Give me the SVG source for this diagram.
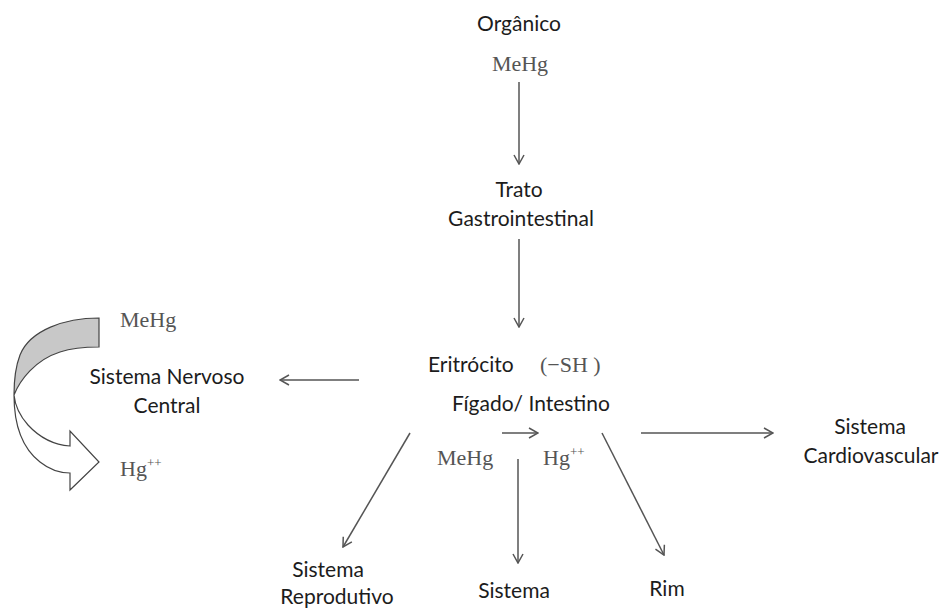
<svg xmlns="http://www.w3.org/2000/svg" width="943" height="608" viewBox="0 0 943 608">
  <style>
    .lbl { font-family: Lato, "Liberation Sans", sans-serif; font-size: 21px; fill: #1c1c1c; }
    .chem { font-family: "Liberation Serif", serif; font-size: 22px; fill: #555; }
    .sup { font-size: 13px; }
    .conn line { stroke: #555; stroke-width: 1.5; fill: none; marker-end: url(#arr); }
  </style>
  <defs>
    <marker id="arr" viewBox="0 0 12 12" refX="11" refY="6" markerWidth="12" markerHeight="12" markerUnits="userSpaceOnUse" orient="auto">
      <path d="M2,1 L11,6 L2,11" fill="none" stroke="#555" stroke-width="1.5"/>
    </marker>
  </defs>
  <rect width="943" height="608" fill="#fff"/>

  <g id="organico">
    <text class="lbl" x="519" y="31" text-anchor="middle">Orgânico</text>
    <text class="chem" x="520" y="71" text-anchor="middle">MeHg</text>
  </g>

  <g id="trato">
    <text class="lbl" x="519" y="197" text-anchor="middle">Trato</text>
    <text class="lbl" x="521" y="226" text-anchor="middle">Gastrointestinal</text>
  </g>

  <g id="eritrocito">
    <text class="lbl" x="428" y="372">Eritrócito</text>
    <text class="chem" x="540" y="372">(−SH )</text>
    <text class="lbl" x="452" y="411">Fígado/ Intestino</text>
    <text class="chem" x="437" y="465">MeHg</text>
    <text class="chem" x="543" y="465">Hg<tspan class="sup" dy="-9">++</tspan></text>
  </g>

  <g id="snc">
    <text class="lbl" x="167" y="384" text-anchor="middle">Sistema Nervoso</text>
    <text class="lbl" x="167" y="413" text-anchor="middle">Central</text>
    <text class="chem" x="120" y="327">MeHg</text>
    <text class="chem" x="120" y="476">Hg<tspan class="sup" dy="-9">++</tspan></text>
  </g>

  <g id="ciclo">
    <!-- shaded upper band -->
    <path d="M99,318 C65,318 30,330 20,355 C15,368 14,382 14,395 C20,380 35,360 60,352 C72,348 85,347 99,347 Z" fill="#c8c8c8" stroke="#444" stroke-width="1.2"/>
    <!-- white lower arrow -->
    <path d="M14,395 C14,425 22,448 40,462 C50,470 60,473 70,473 L70,490 L99,462 L70,431 L70,446 C55,445 40,438 28,425 C20,416 15,405 14,395 Z" fill="#fff" stroke="#444" stroke-width="1.2"/>
  </g>

  <g id="cardio">
    <text class="lbl" x="870" y="434" text-anchor="middle">Sistema</text>
    <text class="lbl" x="871" y="463" text-anchor="middle">Cardiovascular</text>
  </g>

  <g id="reprodutivo">
    <text class="lbl" x="328" y="577" text-anchor="middle">Sistema</text>
    <text class="lbl" x="337" y="604" text-anchor="middle">Reprodutivo</text>
  </g>

  <g id="sistema">
    <text class="lbl" x="514" y="598" text-anchor="middle">Sistema</text>
  </g>

  <g id="rim">
    <text class="lbl" x="667" y="596" text-anchor="middle">Rim</text>
  </g>

  <g class="conn" id="connectors">
    <line x1="519" y1="82" x2="519" y2="164"/>
    <line x1="519" y1="239" x2="519" y2="327"/>
    <line x1="359" y1="380" x2="280" y2="380"/>
    <line x1="641" y1="433" x2="773" y2="433"/>
    <line x1="502" y1="433" x2="538" y2="433"/>
    <line x1="518" y1="459" x2="518" y2="563"/>
    <line x1="410" y1="433" x2="343" y2="547"/>
    <line x1="602" y1="433" x2="664" y2="555"/>
  </g>
</svg>
